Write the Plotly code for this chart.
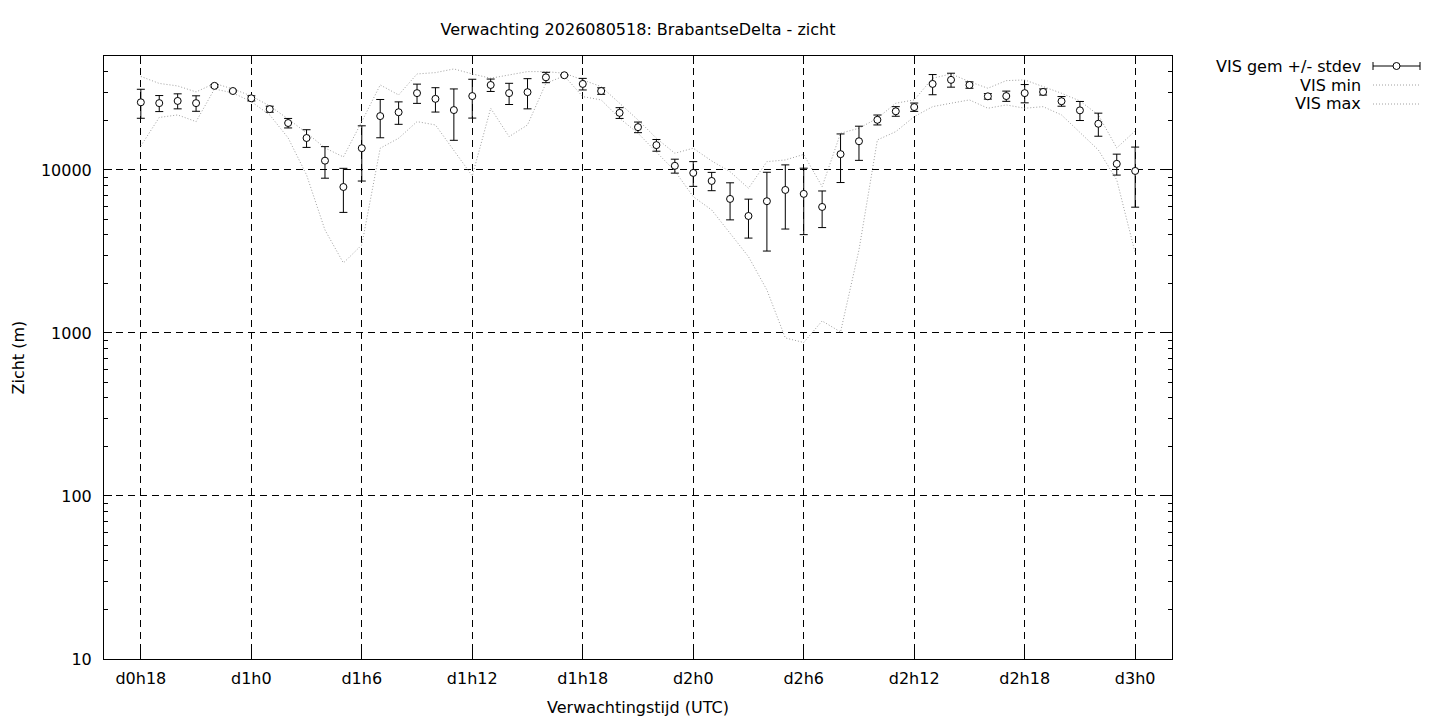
import plotly.graph_objects as go

# forecast hours (relative to d0h0), one point per hour
uren = [18, 19, 20, 21, 22, 23, 24, 25, 26, 27, 28, 29, 30, 31, 32, 33, 34, 35, 36,
        37, 38, 39, 40, 41, 42, 43, 44, 45, 46, 47, 48, 49, 50, 51, 52, 53, 54, 55,
        56, 57, 58, 59, 60, 61, 62, 63, 64, 65, 66, 67, 68, 69, 70, 71, 72]

vis_gem = [26000, 25700, 26500, 25700, 32800, 30500, 27500, 23600, 19400, 15700,
           11400, 7860, 13600, 21400, 22600, 29600, 27300, 23300, 28400, 33200,
           29600, 30000, 37000, 38100, 33700, 30500, 22400, 18300, 14200, 10600,
           9590, 8560, 6640, 5220, 6430, 7540, 7130, 5930, 12500, 15000,
           20300, 22900, 24300, 33700, 35700, 33200, 28300, 28400, 29600, 30100,
           26400, 23200, 19200, 10900, 9860]

vis_stdev = [5250, 2900, 2800, 2800, 600, 400, 1000, 1000, 1300, 1950,
             2500, 2370, 5050, 5650, 3550, 4000, 4650, 8100, 7600, 2900,
             4400, 6300, 2700, 300, 2750, 1400, 1700, 1370, 1170, 1040,
             1660, 1100, 1700, 1400, 3250, 3200, 3120, 1500, 4130, 3550,
             1420, 1550, 1430, 4770, 3500, 1500, 1100, 2050, 3800, 1300,
             1800, 3100, 3100, 1600, 3950]

vis_min = [14030, 20990, 21750, 19790, 31400, 29670, 26240, 21750, 15720, 9318,
           4284, 2688, 3467, 13590, 15650, 19790, 18880, 13260, 9188, 23900,
           16010, 18880, 34040, 37730, 28170, 26890, 20760, 16800, 12890, 9860,
           6859, 5683, 4089, 2938, 1836, 932, 874, 1185, 1014, 3230,
           15280, 17180, 21230, 24450, 25660, 26890, 23900, 25050, 23900, 24450,
           21750, 16870, 13260, 8685, 3096]

vis_max = [37460, 33940, 32760, 30100, 33940, 31400, 28440, 24700, 20550, 16870,
           13650, 12020, 19790, 33230, 28850, 38810, 39540, 41650, 38810, 36520,
           38270, 40110, 40110, 39200, 35660, 32440, 25660, 20270, 15650, 12660,
           13590, 11360, 9763, 7721, 11240, 11520, 12450, 7900, 16800, 18020,
           20760, 25660, 26890, 36520, 38810, 34820, 31710, 35310, 35660, 32440,
           29550, 26500, 21750, 13650, 17350]

tick_uren = [18, 24, 30, 36, 42, 48, 54, 60, 66, 72]
tick_tekst = ["d0h18", "d1h0", "d1h6", "d1h12", "d1h18", "d2h0", "d2h6", "d2h12", "d2h18", "d3h0"]

FONT = "DejaVu Sans"
FS = 16
GRIJS = "#a0a0a0"
STIP = "1px,2px"

# page body has an 8px margin, so the figure is drawn 8px in from the corner
OFF = 8
W, H = 1440 - OFF, 720 - OFF
# plot area in page pixels
L, R, T, B = 104, 1172, 56, 659


def px(x):
    return (x - L) / (R - L)


def py(y):
    return (B - y) / (B - T)


fig = go.Figure()

fig.add_trace(go.Scatter(x=uren, y=vis_min, mode="lines", name="VIS min",
                         line=dict(color=GRIJS, width=1, dash=STIP)))
fig.add_trace(go.Scatter(x=uren, y=vis_max, mode="lines", name="VIS max",
                         line=dict(color=GRIJS, width=1, dash=STIP)))
fig.add_trace(go.Scatter(x=uren, y=vis_gem, mode="markers", name="VIS gem +/- stdev",
                         marker=dict(size=7, color="white", line=dict(color="black", width=1)),
                         error_y=dict(type="data", array=vis_stdev, color="black",
                                      thickness=1, width=4)))

fig.update_layout(
    width=W, height=H,
    margin=dict(l=L - OFF, r=1440 - R, t=T - OFF, b=720 - B),
    paper_bgcolor="white", plot_bgcolor="white",
    showlegend=False,
    font=dict(family=FONT, size=FS, color="black"),
    title=dict(text="Verwachting 2026080518: BrabantseDelta - zicht",
               x=(638 - OFF) / W, xanchor="center", xref="container",
               y=1 - (29 - OFF) / H, yanchor="middle", yref="container",
               font=dict(family=FONT, size=FS, color="black")),
)

fig.update_xaxes(
    range=[16, 74], tickmode="array", tickvals=tick_uren, ticktext=tick_tekst,
    showline=True, linecolor="black", linewidth=1, mirror="allticks",
    ticks="inside", ticklen=8, tickcolor="black", ticklabelstandoff=5,
    showgrid=True, gridcolor="black", gridwidth=1, griddash="7px,5px",
    zeroline=False,
)

fig.update_yaxes(
    type="log", range=[1, 4.69897], dtick=1, tickformat="d",
    showline=True, linecolor="black", linewidth=1, mirror="allticks",
    ticks="inside", ticklen=8, tickcolor="black", ticklabelstandoff=8,
    showgrid=True, gridcolor="black", gridwidth=1, griddash="7px,5px",
    minor=dict(dtick="D1", ticks="inside", ticklen=4, tickcolor="black", showgrid=False),
    zeroline=False,
)

# axis titles
fig.add_annotation(text="Verwachtingstijd (UTC)", xref="paper", yref="paper",
                   x=0.5, y=py(707), xanchor="center", yanchor="middle",
                   showarrow=False, font=dict(family=FONT, size=FS))
fig.add_annotation(text="Zicht (m)", xref="paper", yref="paper", textangle=-90,
                   x=px(18), y=0.5, xanchor="center", yanchor="middle",
                   showarrow=False, font=dict(family=FONT, size=FS))

# gnuplot style key: text right aligned, sample on the right
key_rows = [("VIS gem +/- stdev", 66), ("VIS min", 85), ("VIS max", 104)]
for label, yk in key_rows:
    fig.add_annotation(text=label, xref="paper", yref="paper",
                       x=px(1363), y=py(yk), xanchor="right", yanchor="middle",
                       showarrow=False, font=dict(family=FONT, size=FS))

x0, x1, y_k = 1373, 1420, 66
fig.add_shape(type="line", xref="paper", yref="paper", x0=px(x0), x1=px(x1),
              y0=py(y_k), y1=py(y_k), line=dict(color="black", width=1))
for xc in (x0, x1):
    fig.add_shape(type="line", xref="paper", yref="paper", x0=px(xc), x1=px(xc),
                  y0=py(y_k - 4), y1=py(y_k + 4), line=dict(color="black", width=1))
xm = (x0 + x1) / 2
fig.add_shape(type="circle", xref="paper", yref="paper",
              x0=px(xm - 3.5), x1=px(xm + 3.5), y0=py(y_k + 3.5), y1=py(y_k - 3.5),
              fillcolor="white", line=dict(color="black", width=1))
for yk in (85, 104):
    fig.add_shape(type="line", xref="paper", yref="paper", x0=px(x0), x1=px(x1),
                  y0=py(yk), y1=py(yk), line=dict(color=GRIJS, width=1, dash=STIP))

fig.write_html("out.html")
